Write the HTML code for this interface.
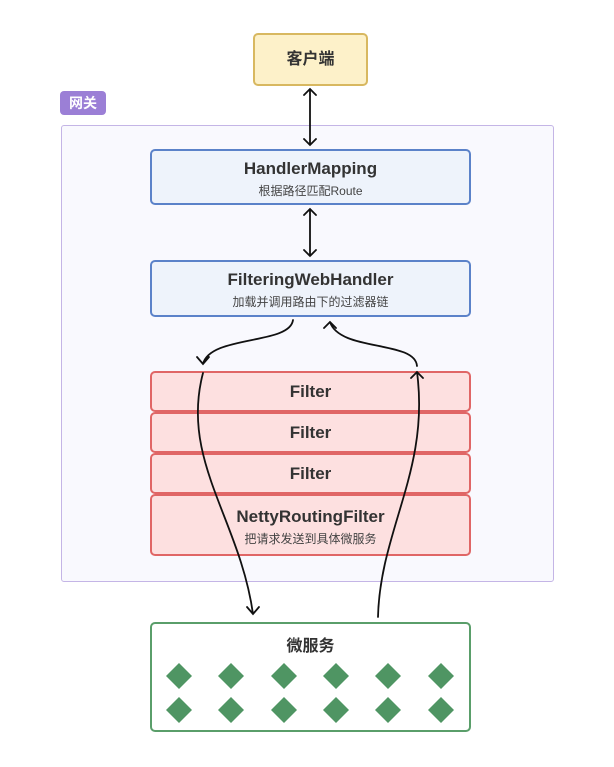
<!DOCTYPE html>
<html><head><meta charset="utf-8"><style>
body{margin:0;width:614px;height:767px;background:#fff;overflow:hidden;font-family:"Liberation Sans","Noto Sans CJK SC",sans-serif}
.b{position:absolute;box-sizing:border-box;border-radius:5px;text-align:center;color:#333}
.t{font-weight:bold;font-size:17px}
.s{font-size:12px;color:#444}
</style></head><body>
<div class="b" style="left:61px;top:125px;width:493px;height:457px;background:#f9f9fe;border:1px solid #c4b5e6;border-radius:3px"></div>
<div class="b" style="left:60px;top:91px;width:46px;height:24px;background:#9b7fd6;color:#fff;font-weight:bold;font-size:14px;line-height:24px;border-radius:4px">网关</div>
<div class="b" style="left:253px;top:33px;width:115px;height:53px;background:#fdf1c9;border:2px solid #d8b860;line-height:49px"><span class="t" style="font-size:16px">客户端</span></div>
<div class="b" style="left:150px;top:149px;width:321px;height:56px;background:#eef3fb;border:2px solid #5b82c9;padding-top:8px"><div class="t">HandlerMapping</div><div class="s" style="margin-top:3px">根据路径匹配Route</div></div>
<div class="b" style="left:150px;top:260px;width:321px;height:57px;background:#eef3fb;border:2px solid #5b82c9;padding-top:8px"><div class="t">FilteringWebHandler</div><div class="s" style="margin-top:3px">加载并调用路由下的过滤器链</div></div>
<div class="b" style="left:150px;top:371px;width:321px;height:41px;background:#fde0e0;border:2px solid #e06666;line-height:37px"><span class="t">Filter</span></div>
<div class="b" style="left:150px;top:412px;width:321px;height:41px;background:#fde0e0;border:2px solid #e06666;line-height:37px"><span class="t">Filter</span></div>
<div class="b" style="left:150px;top:453px;width:321px;height:41px;background:#fde0e0;border:2px solid #e06666;line-height:37px"><span class="t">Filter</span></div>
<div class="b" style="left:150px;top:494px;width:321px;height:62px;background:#fde0e0;border:2px solid #e06666;padding-top:11px"><div class="t">NettyRoutingFilter</div><div class="s" style="margin-top:3px">把请求发送到具体微服务</div></div>
<div class="b" style="left:150px;top:622px;width:321px;height:110px;background:#fff;border:2px solid #5a9e6a;padding-top:8px"><div class="t" style="font-size:16px">微服务</div></div>
<svg width="614" height="767" style="position:absolute;left:0;top:0" fill="none" stroke="#111" stroke-width="1.8" stroke-linecap="round">
<g fill="#4f9563" stroke="none">
<path d="M179 663l13 13-13 13-13-13z"/><path d="M231 663l13 13-13 13-13-13z"/><path d="M284 663l13 13-13 13-13-13z"/><path d="M336 663l13 13-13 13-13-13z"/><path d="M388 663l13 13-13 13-13-13z"/><path d="M441 663l13 13-13 13-13-13z"/>
<path d="M179 697l13 13-13 13-13-13z"/><path d="M231 697l13 13-13 13-13-13z"/><path d="M284 697l13 13-13 13-13-13z"/><path d="M336 697l13 13-13 13-13-13z"/><path d="M388 697l13 13-13 13-13-13z"/><path d="M441 697l13 13-13 13-13-13z"/>
</g>
<path d="M310 89V145M304 95l6-6 6 6M304 139l6 6 6-6"/>
<path d="M310 209V256M304 215l6-6 6 6M304 250l6 6 6-6"/>
<path d="M293 320C290 345 210 335 203 364M197 357l6 7 6-7"/>
<path d="M203 373C180 460 240 520 253 614M247 607l6 7 6-7"/>
<path d="M378 617C380 530 430 470 417 372M411 378l6-6 6 6"/>
<path d="M417 366C415 340 340 352 330 322M324 328l6-6 6 6"/>
</svg>
</body></html>
